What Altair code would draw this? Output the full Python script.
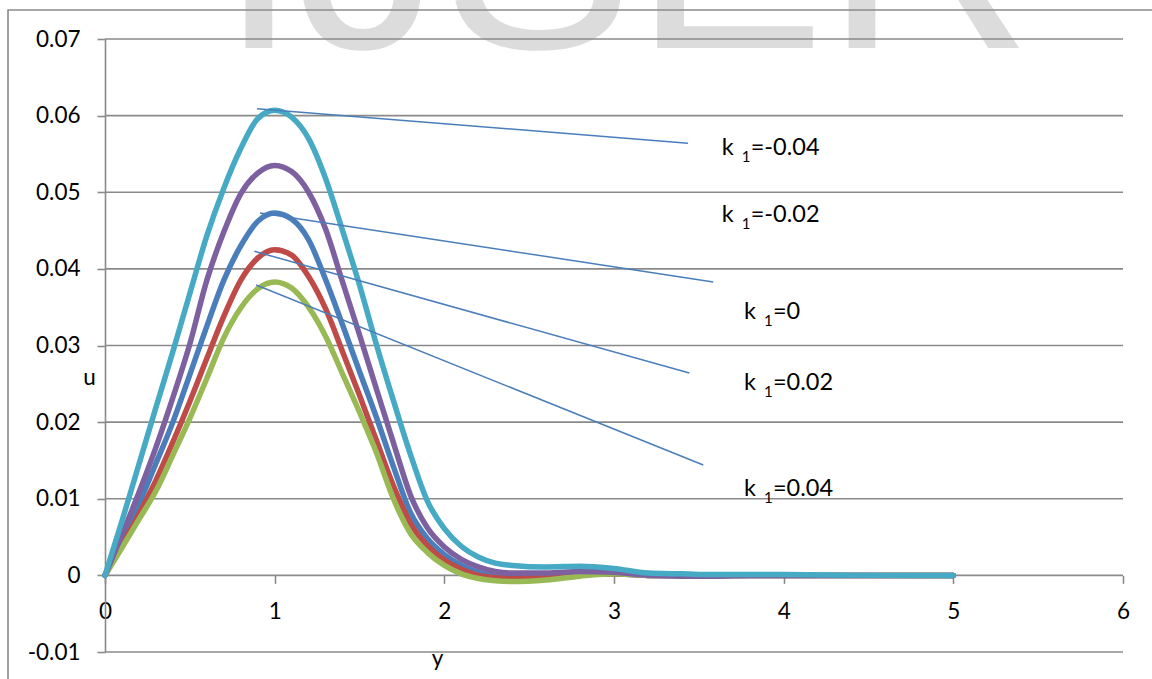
import altair as alt
import pandas as pd

# horizontal variable y, sampled positions
y_pts = [0.0, 0.1, 0.2, 0.3, 0.4, 0.5, 0.6, 0.7, 0.8, 0.9,
         1.0, 1.1, 1.2, 1.3, 1.4, 1.5, 1.6, 1.7, 1.8, 1.9,
         2.0, 2.1, 2.2, 2.3, 2.4, 2.6, 2.8, 3.0, 3.2, 3.4,
         3.6, 3.8, 4.0, 4.5, 5.0]

# velocity profiles u(y) for each k1
u_k1_m004 = [0.0, 0.0071, 0.0145, 0.0219, 0.0292, 0.0368, 0.0443, 0.0505, 0.0557, 0.0596,
             0.0607, 0.0598, 0.0570, 0.0518, 0.0450, 0.0379, 0.0301, 0.0228, 0.0158, 0.0097,
             0.0061, 0.0038, 0.0024, 0.0016, 0.0013, 0.0011, 0.0012, 0.0009, 0.0003, 0.0002,
             0.0001, 0.0001, 0.0001, 0.0, 0.0]
u_k1_m002 = [0.0, 0.0053, 0.0108, 0.0167, 0.0232, 0.0302, 0.0385, 0.0448, 0.0498, 0.0525,
             0.0535, 0.0527, 0.0500, 0.0452, 0.0383, 0.0314, 0.0243, 0.0173, 0.0105, 0.0062,
             0.0037, 0.0021, 0.0011, 0.0005, 0.0003, 0.0003, 0.0005, 0.0004, 0.0, -0.0001,
             -0.0001, 0.0, 0.0, 0.0, 0.0]
u_k1_0 = [0.0, 0.0046, 0.0093, 0.0146, 0.0200, 0.0262, 0.0325, 0.0385, 0.0430, 0.0462,
          0.0473, 0.0465, 0.0438, 0.0386, 0.0327, 0.0266, 0.0206, 0.0142, 0.0082, 0.0048,
          0.0027, 0.0013, 0.0004, -0.0001, -0.0002, -0.0002, 0.0002, 0.0002, 0.0, 0.0,
          0.0, 0.0, 0.0, 0.0, 0.0]
u_k1_p002 = [0.0, 0.0039, 0.0080, 0.0124, 0.0174, 0.0227, 0.0283, 0.0338, 0.0385, 0.0414,
             0.0425, 0.0418, 0.0390, 0.0348, 0.0292, 0.0235, 0.0176, 0.0117, 0.0068, 0.0039,
             0.0020, 0.0008, 0.0000, -0.0003, -0.0004, -0.0003, 0.0001, 0.0002, 0.0, 0.0,
             0.0, 0.0, 0.0, 0.0, 0.0]
u_k1_p004 = [0.0, 0.0036, 0.0073, 0.0110, 0.0157, 0.0205, 0.0257, 0.0310, 0.0349, 0.0374,
             0.0383, 0.0375, 0.0350, 0.0312, 0.0263, 0.0213, 0.0160, 0.0100, 0.0055, 0.0030,
             0.0013, 0.0002, -0.0004, -0.0007, -0.0008, -0.0006, -0.0001, 0.0002, 0.0, 0.0,
             0.0, 0.0, 0.0, 0.0, 0.0]

# series in drawing order (last one on top) with their colours
series = [
    ("0", u_k1_0, "#4A7EBB"),
    ("0.02", u_k1_p002, "#BE4B48"),
    ("0.04", u_k1_p004, "#98B954"),
    ("-0.02", u_k1_m002, "#7D60A0"),
    ("-0.04", u_k1_m004, "#46AAC5"),
]

# annotation texts and their anchor points (data units)
label_vals = ["=-0.04", "=-0.02", "=0", "=0.02", "=0.04"]
label_y = [3.635, 3.635, 3.766, 3.766, 3.766]
label_u = [0.0549, 0.0461, 0.0335, 0.0242, 0.0103]

# leader lines from the peaks towards the annotation column
lead_y0 = [0.896, 0.914, 0.880, 0.891]
lead_u0 = [0.0609, 0.0473, 0.0423, 0.0379]
lead_y1 = [3.436, 3.585, 3.444, 3.526]
lead_u1 = [0.0564, 0.0383, 0.0264, 0.0144]

x_ticks = [0, 1, 2, 3, 4, 5, 6]
u_ticks = [-0.01, 0.0, 0.01, 0.02, 0.03, 0.04, 0.05, 0.06, 0.07]

W, H = 1018, 613
FONT = "Lato"
FS = 22.5
LFS = 23.5
GRID = "#8A8A8A"

xs = alt.Scale(domain=[0, 6], nice=False, zero=False)
us = alt.Scale(domain=[-0.01, 0.07], nice=False, zero=False)

x_axis = alt.Axis(
    values=x_ticks, format="d", offset=-(H / 8.0), domain=False, grid=False,
    ticks=True, tickSize=8, tickColor=GRID, tickWidth=1.6,
    labelFont=FONT, labelFontSize=FS, labelColor="#000000", labelPadding=28,
    labelBaseline="middle", labelFlush=False, labelOverlap=False,
    title="y", titleFont=FONT, titleFontSize=FS, titleFontWeight="normal",
    titleColor="#000000", titleX=332, titleY=90, titleAlign="center",
    titleBaseline="alphabetic",
)
u_axis = alt.Axis(
    values=u_ticks, domain=True, domainColor=GRID, domainWidth=1.6, grid=False,
    ticks=True, tickSize=8, tickColor=GRID, tickWidth=1.6,
    labelExpr="abs(datum.value) < 1e-9 ? '0' : (datum.value < 0 ? '-' + format(-datum.value, '.2f') : format(datum.value, '.2f'))",
    labelFont=FONT, labelFontSize=FS, labelColor="#000000", labelPadding=17,
    labelBaseline="middle", labelFlush=False, labelOverlap=False,
    title="u", titleFont=FONT, titleFontSize=FS, titleFontWeight="normal",
    titleColor="#000000", titleAngle=0, titleX=-16, titleY=338,
    titleAlign="center", titleBaseline="middle",
)


def X(field):
    return alt.X(field, scale=xs, axis=x_axis, title="y")


def U(field):
    return alt.Y(field, scale=us, axis=u_axis, title="u")


one = pd.DataFrame({"t": ["IJSER"]})

watermark = alt.Chart(one).mark_text(
    font="Liberation Sans", fontSize=287, color="#DCDCDC",
    align="left", baseline="alphabetic",
).encode(text="t:N", x=alt.value(114), y=alt.value(9))

frame = alt.Chart(one).mark_rect(
    filled=False, stroke=GRID, strokeWidth=1.6, fill="transparent",
).encode(x=alt.value(-97), x2=alt.value(W + 60), y=alt.value(-29), y2=alt.value(H + 60))

grid = alt.Chart(pd.DataFrame({"u": u_ticks})).mark_rule(
    color=GRID, strokeWidth=1.6,
).encode(y=U("u:Q"))

curve_layers = []
for k, vals, col in series:
    df = pd.DataFrame({"y": y_pts, "u": vals})
    curve_layers.append(
        alt.Chart(df).mark_line(
            color=col, strokeWidth=5.5, interpolate="monotone",
            strokeCap="round", strokeJoin="round",
        ).encode(x=X("y:Q"), y=U("u:Q"))
    )

leads = alt.Chart(pd.DataFrame({
    "y0": lead_y0, "u0": lead_u0, "y1": lead_y1, "u1": lead_u1,
})).mark_rule(color="#4A7EBB", strokeWidth=1.5).encode(
    x=X("y0:Q"), x2="y1:Q", y=U("u0:Q"), y2="u1:Q",
)

lab_df = pd.DataFrame({"y": label_y, "u": label_u, "k": ["k"] * 5,
                       "sub": ["1"] * 5, "rest": label_vals})
lab_base = alt.Chart(lab_df).encode(x=X("y:Q"), y=U("u:Q"))
lab_k = lab_base.mark_text(font=FONT, fontSize=LFS, color="#000000",
                           align="left", baseline="alphabetic").encode(text="k:N")
lab_sub = lab_base.mark_text(font=FONT, fontSize=15, color="#000000",
                             align="left", baseline="alphabetic",
                             dx=20, dy=7).encode(text="sub:N")
lab_rest = lab_base.mark_text(font=FONT, fontSize=LFS, color="#000000",
                              align="left", baseline="alphabetic",
                              dx=29).encode(text="rest:N")

chart = alt.layer(
    watermark, frame, grid, *curve_layers, leads, lab_k, lab_sub, lab_rest,
).properties(
    width=W, height=H,
    autosize=alt.AutoSizeParams(type="none"),
    padding={"left": 105, "top": 39, "right": 29, "bottom": 27},
    background="white",
).configure_view(stroke=None)

chart.save("out.html", embed_options={"renderer": "svg", "actions": False})
